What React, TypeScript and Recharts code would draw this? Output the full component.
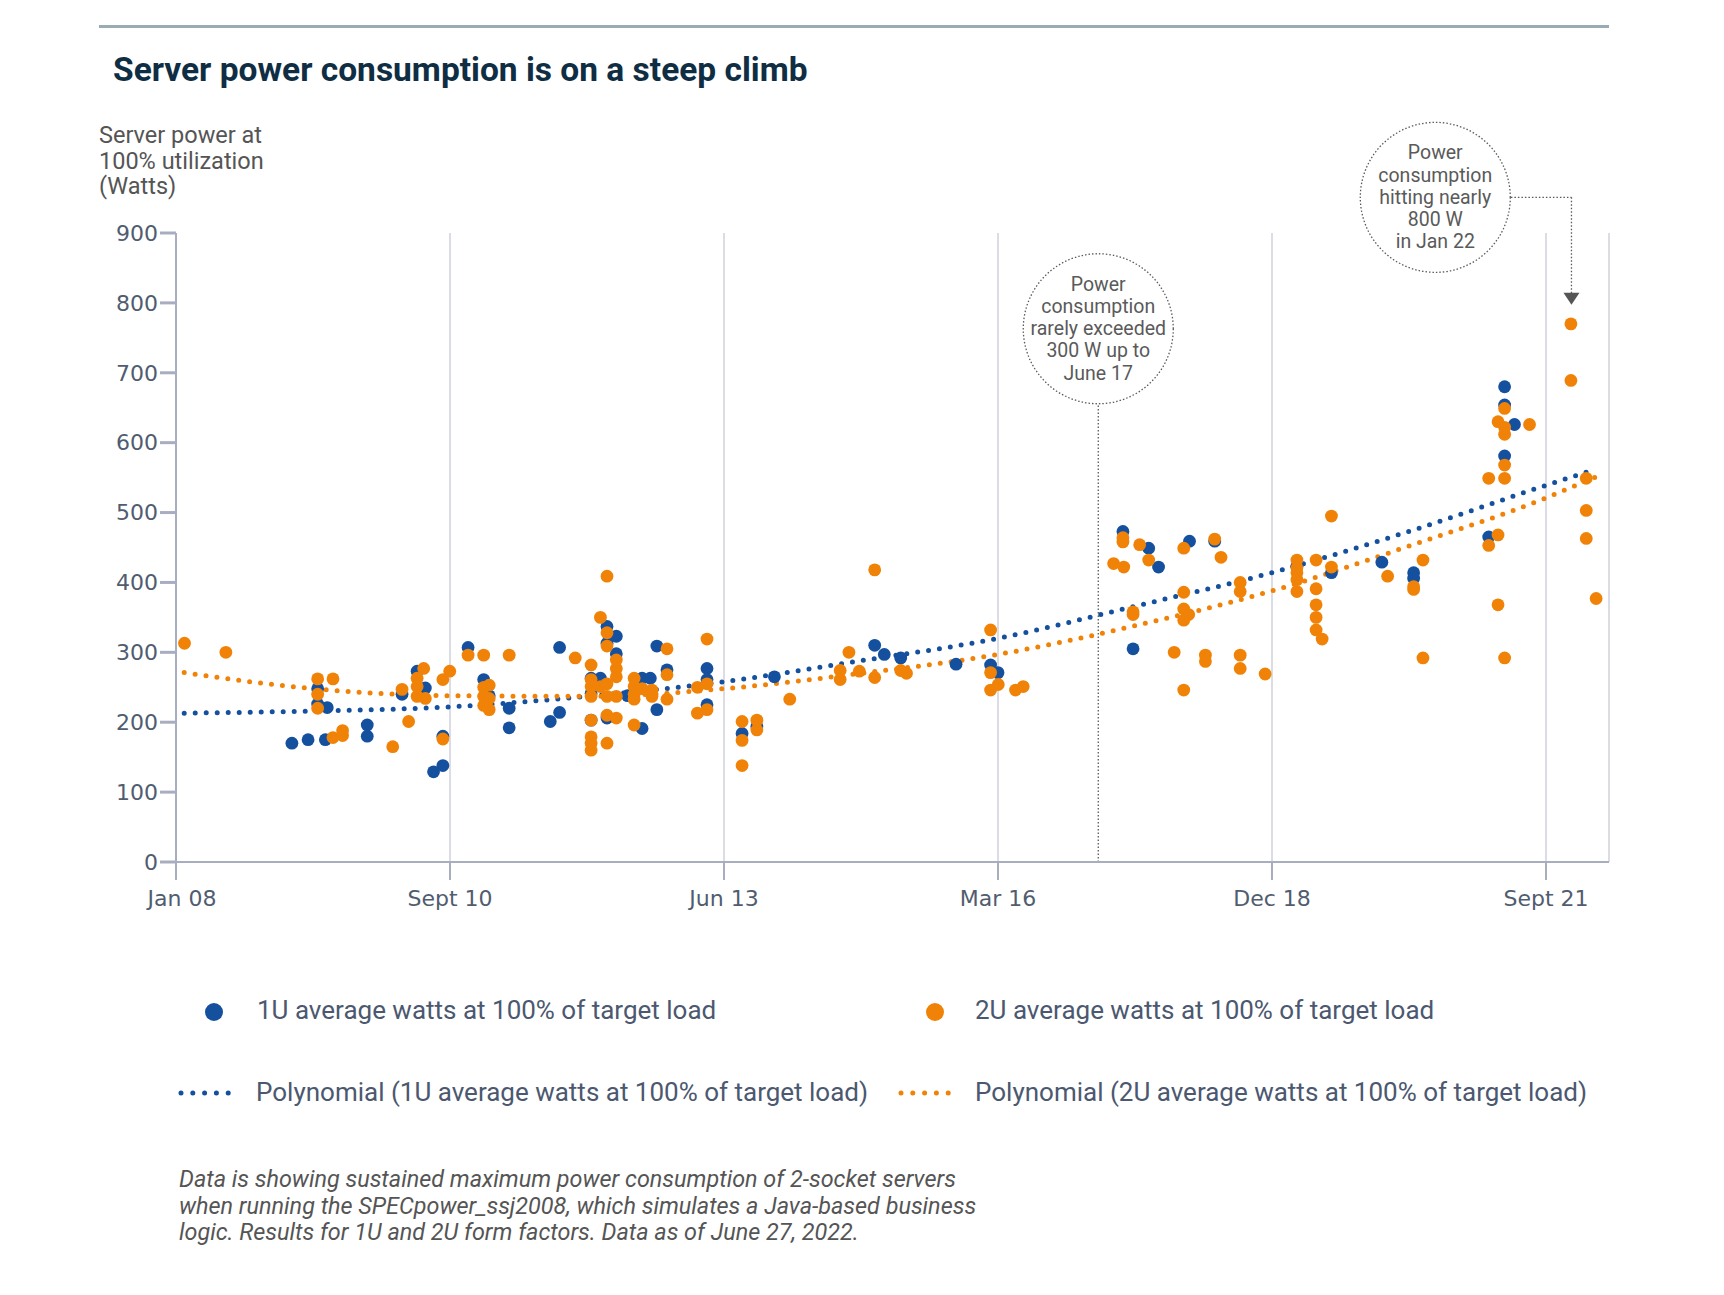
import React from 'react';
import {
  ComposedChart,
  Scatter,
  Line,
  XAxis,
  YAxis,
  CartesianGrid,
  ReferenceDot,
  ReferenceLine
} from 'recharts';

// x values are days counted from 1 Jan 2008, y values are watts
const xTicks = [0, 1000, 2000, 3000, 4000, 5000];
const xTickLabels = ['Jan 08', 'Sept 10', 'Jun 13', 'Mar 16', 'Dec 18', 'Sept 21'];
const yTicks = [0, 100, 200, 300, 400, 500, 600, 700, 800, 900];

const oneU: [number, number][] = [
  [423, 170], [482, 175], [517, 248], [517, 226], [552, 221], [545, 175], [698, 196], [698, 180],
  [825, 240], [880, 273], [910, 249], [940, 129], [974, 138], [974, 180], [1066, 307], [1123, 261],
  [1143, 238], [1216, 220], [1216, 192], [1366, 201], [1400, 307], [1400, 214], [1515, 263], [1515, 241],
  [1515, 203], [1549, 263], [1573, 337], [1573, 313], [1573, 206], [1607, 323], [1607, 298], [1648, 238],
  [1701, 263], [1731, 263], [1701, 191], [1755, 309], [1755, 218], [1792, 275], [1938, 277], [1938, 261],
  [1938, 225], [2066, 184], [2120, 194], [2184, 265], [2550, 310], [2585, 297], [2645, 292], [2847, 283],
  [2973, 282], [3000, 271], [3456, 473], [3550, 449], [3586, 422], [3493, 305], [3699, 459], [3791, 459],
  [4091, 423], [4217, 414], [4401, 429], [4517, 414], [4517, 406], [4791, 465], [4849, 680], [4849, 654],
  [4885, 626], [4849, 581]
];

const twoU: [number, number][] = [
  [31, 313], [182, 300], [517, 262], [517, 240], [517, 220], [573, 262], [573, 178], [608, 188],
  [608, 181], [791, 165], [825, 247], [849, 201], [880, 263], [880, 251], [880, 237], [904, 277],
  [910, 234], [974, 261], [974, 176], [999, 273], [1066, 296], [1123, 296], [1123, 250], [1143, 253],
  [1123, 237], [1143, 234], [1123, 224], [1143, 218], [1216, 296], [1457, 292], [1515, 282], [1515, 261],
  [1515, 251], [1515, 237], [1515, 203], [1515, 179], [1515, 170], [1515, 160], [1549, 350], [1549, 251],
  [1573, 409], [1573, 328], [1573, 309], [1573, 255], [1573, 237], [1573, 210], [1573, 170], [1607, 289],
  [1607, 277], [1607, 265], [1607, 237], [1607, 206], [1672, 263], [1672, 251], [1672, 240], [1672, 233],
  [1672, 196], [1701, 248], [1737, 246], [1737, 237], [1792, 305], [1792, 268], [1792, 233], [1903, 250],
  [1903, 213], [1938, 319], [1938, 255], [1938, 218], [2066, 201], [2066, 174], [2066, 138], [2120, 203],
  [2120, 189], [2240, 233], [2424, 274], [2424, 261], [2456, 300], [2494, 273], [2550, 418], [2550, 264],
  [2645, 274], [2666, 270], [2973, 332], [2973, 271], [2973, 246], [3001, 254], [3064, 246], [3092, 251],
  [3422, 427], [3456, 464], [3456, 458], [3459, 422], [3493, 358], [3493, 354], [3517, 454], [3550, 432],
  [3643, 300], [3678, 449], [3678, 386], [3678, 362], [3696, 354], [3678, 346], [3678, 246], [3757, 296],
  [3757, 287], [3791, 462], [3814, 436], [3884, 400], [3884, 387], [3884, 296], [3884, 277], [3975, 269],
  [4091, 432], [4091, 421], [4091, 414], [4091, 404], [4091, 387], [4161, 432], [4161, 391], [4161, 368],
  [4161, 350], [4161, 332], [4183, 319], [4217, 495], [4217, 422], [4422, 409], [4517, 394], [4517, 390],
  [4551, 432], [4551, 292], [4791, 549], [4791, 453], [4825, 630], [4825, 468], [4825, 368], [4849, 649],
  [4849, 622], [4849, 612], [4849, 568], [4849, 549], [4849, 292], [4940, 626], [5091, 770], [5091, 689],
  [5147, 549], [5147, 503], [5147, 463], [5183, 377]
];

// polynomial trend lines
const oneUTrend: [number, number][] = [
  [30, 213], [500, 216], [1000, 222], [1500, 237], [2000, 258], [2500, 288], [3000, 320],
  [3500, 366], [4000, 414], [4500, 473], [5000, 539], [5182, 562]
];
const twoUTrend: [number, number][] = [
  [30, 271], [500, 248], [1000, 238], [1500, 237], [2000, 248], [2500, 270], [3000, 297],
  [3500, 338], [4000, 388], [4500, 452], [5000, 521], [5182, 551]
];

const legendLabels = [
  '1U average watts at 100% of target load',
  '2U average watts at 100% of target load',
  'Polynomial (1U average watts at 100% of target load)',
  'Polynomial (2U average watts at 100% of target load)'
];

const noteLow = ['Power', 'consumption', 'rarely exceeded', '300 W up to', 'June 17'];
const noteHigh = ['Power', 'consumption', 'hitting nearly', '800 W', 'in Jan 22'];

const BLUE = '#14509e';
const ORANGE = '#f08307';
const AXIS = '#a9adc0';
const NOTE = '#5a5a5a';

const toPoints = (rows: [number, number][]) => rows.map(([day, w]) => ({ day, w }));

const dotShape = (color: string) => (p: any) => (
  <circle cx={p.cx} cy={p.cy} r={6.4} fill={color} />
);

const bubble = (lines: string[]) => (p: any) => (
  <g>
    <circle cx={p.cx} cy={p.cy} r={75} fill="#fff" stroke={NOTE} strokeWidth={1.3} strokeDasharray="1.5 2" />
    {lines.map((t, i) => (
      <text
        key={i}
        x={p.cx}
        y={p.cy + (i - 2) * 22.2}
        textAnchor="middle"
        dominantBaseline="central"
        fontFamily="Roboto, sans-serif"
        fontSize={19.5}
        fill={NOTE}
      >
        {t}
      </text>
    ))}
  </g>
);

const arrowHead = (p: any) => (
  <path d={`M${p.cx - 8},${p.cy - 6}L${p.cx + 8},${p.cy - 6}L${p.cx},${p.cy + 6}Z`} fill="#555" />
);

const tickFont = { fontFamily: 'DejaVu Sans, sans-serif', fontSize: 22, fill: '#505c70' };

const XTick = (p: any) => {
  const idx = xTicks.indexOf(p.payload.value);
  return (
    <text
      x={p.x + (idx === 0 ? 6 : 0)}
      y={p.y}
      dy="0.71em"
      textAnchor="middle"
      {...tickFont}
    >
      {xTickLabels[idx]}
    </text>
  );
};

const Chart = () => (
  <ComposedChart
    width={1724}
    height={960}
    margin={{ top: 233, right: 115, bottom: 58, left: 0 }}
  >
    <CartesianGrid horizontal={false} stroke="#dcdde4" strokeWidth={2} />
    <XAxis
      type="number"
      dataKey="day"
      domain={[0, 5230]}
      ticks={xTicks}
      interval={0}
      height={40}
      tickSize={18}
      tickMargin={10}
      axisLine={{ stroke: AXIS, strokeWidth: 2 }}
      tickLine={{ stroke: AXIS, strokeWidth: 2 }}
      tick={XTick}
    />
    <YAxis
      type="number"
      dataKey="w"
      domain={[0, 900]}
      ticks={yTicks}
      interval={0}
      width={176}
      tickSize={16}
      tickMargin={2}
      axisLine={{ stroke: AXIS, strokeWidth: 2 }}
      tickLine={{ stroke: AXIS, strokeWidth: 3 }}
      tick={tickFont}
    />
    <ReferenceLine
      segment={[{ x: 3366, y: 0 }, { x: 3366, y: 655 }]}
      stroke={NOTE}
      strokeWidth={1.3}
      strokeDasharray="1.5 2"
      ifOverflow="visible"
    />
    <ReferenceLine
      segment={[{ x: 4872, y: 951 }, { x: 5093, y: 951 }]}
      stroke={NOTE}
      strokeWidth={1.3}
      strokeDasharray="1.5 2"
      ifOverflow="visible"
    />
    <ReferenceLine
      segment={[{ x: 5093, y: 951 }, { x: 5093, y: 812 }]}
      stroke={NOTE}
      strokeWidth={1.3}
      strokeDasharray="1.5 2"
      ifOverflow="visible"
    />
    <ReferenceDot x={5093} y={806} r={8} shape={arrowHead} ifOverflow="visible" />
    <ReferenceDot x={3366} y={763} r={75} shape={bubble(noteLow)} ifOverflow="visible" />
    <ReferenceDot x={4596} y={951} r={75} shape={bubble(noteHigh)} ifOverflow="visible" />
    <Scatter data={toPoints(oneU)} dataKey="w" shape={dotShape(BLUE)} isAnimationActive={false} />
    <Scatter data={toPoints(twoU)} dataKey="w" shape={dotShape(ORANGE)} isAnimationActive={false} />
    <Line
      data={toPoints(oneUTrend)}
      dataKey="w"
      type="monotone"
      stroke={BLUE}
      strokeWidth={5}
      strokeDasharray="0 11"
      strokeLinecap="round"
      dot={false}
      activeDot={false}
      isAnimationActive={false}
    />
    <Line
      data={toPoints(twoUTrend)}
      dataKey="w"
      type="monotone"
      stroke={ORANGE}
      strokeWidth={5}
      strokeDasharray="0 11"
      strokeLinecap="round"
      dot={false}
      activeDot={false}
      isAnimationActive={false}
    />
  </ComposedChart>
);

const legendText: React.CSSProperties = {
  position: 'absolute',
  fontFamily: 'Roboto, sans-serif',
  fontSize: 26,
  lineHeight: '30px',
  color: '#4b5870',
  whiteSpace: 'nowrap'
};

const DotKey = ({ x, y, color }: { x: number; y: number; color: string }) => (
  <svg style={{ position: 'absolute', left: x - 10, top: y - 10 }} width={20} height={20}>
    <circle cx={10} cy={10} r={9} fill={color} />
  </svg>
);

const LineKey = ({ x, y, color }: { x: number; y: number; color: string }) => (
  <svg style={{ position: 'absolute', left: x - 4, top: y - 6 }} width={70} height={12}>
    <line x1={4} y1={6} x2={63} y2={6} stroke={color} strokeWidth={5} strokeDasharray="0 11.8" strokeLinecap="round" />
  </svg>
);

export default function App() {
  return (
    <div style={{ position: 'absolute', left: 0, top: 0, width: 1724, height: 1295, background: '#fff' }}>
      <div style={{ position: 'absolute', left: 0, top: 0 }}>
        <Chart />
      </div>
      <div style={{ position: 'absolute', left: 99, top: 25, width: 1510, height: 3, background: '#9aabb5' }} />
      <div
        style={{
          position: 'absolute',
          left: 113,
          top: 53,
          fontFamily: 'Roboto, sans-serif',
          fontWeight: 700,
          fontSize: 33.5,
          lineHeight: 1,
          color: '#0f2e44',
          whiteSpace: 'nowrap'
        }}
      >
        Server power consumption is on a steep climb
      </div>
      <div
        style={{
          position: 'absolute',
          left: 99,
          top: 123,
          fontFamily: 'Roboto, sans-serif',
          fontSize: 23.5,
          lineHeight: '25.5px',
          color: '#555'
        }}
      >
        Server power at
        <br />
        100% utilization
        <br />
        (Watts)
      </div>

      <DotKey x={214} y={1012} color={BLUE} />
      <div style={{ ...legendText, left: 257, top: 995 }}>{legendLabels[0]}</div>
      <DotKey x={935} y={1012} color={ORANGE} />
      <div style={{ ...legendText, left: 975, top: 995 }}>{legendLabels[1]}</div>
      <LineKey x={181} y={1093} color={BLUE} />
      <div style={{ ...legendText, left: 256, top: 1077 }}>{legendLabels[2]}</div>
      <LineKey x={901} y={1093} color={ORANGE} />
      <div style={{ ...legendText, left: 975, top: 1077 }}>{legendLabels[3]}</div>

      <div
        style={{
          position: 'absolute',
          left: 179,
          top: 1166,
          fontFamily: 'Roboto, sans-serif',
          fontStyle: 'italic',
          fontSize: 23.4,
          lineHeight: '26.5px',
          color: '#555'
        }}
      >
        Data is showing sustained maximum power consumption of 2-socket servers
        <br />
        when running the SPECpower_ssj2008, which simulates a Java-based business
        <br />
        logic. Results for 1U and 2U form factors. Data as of June 27, 2022.
      </div>
    </div>
  );
}
